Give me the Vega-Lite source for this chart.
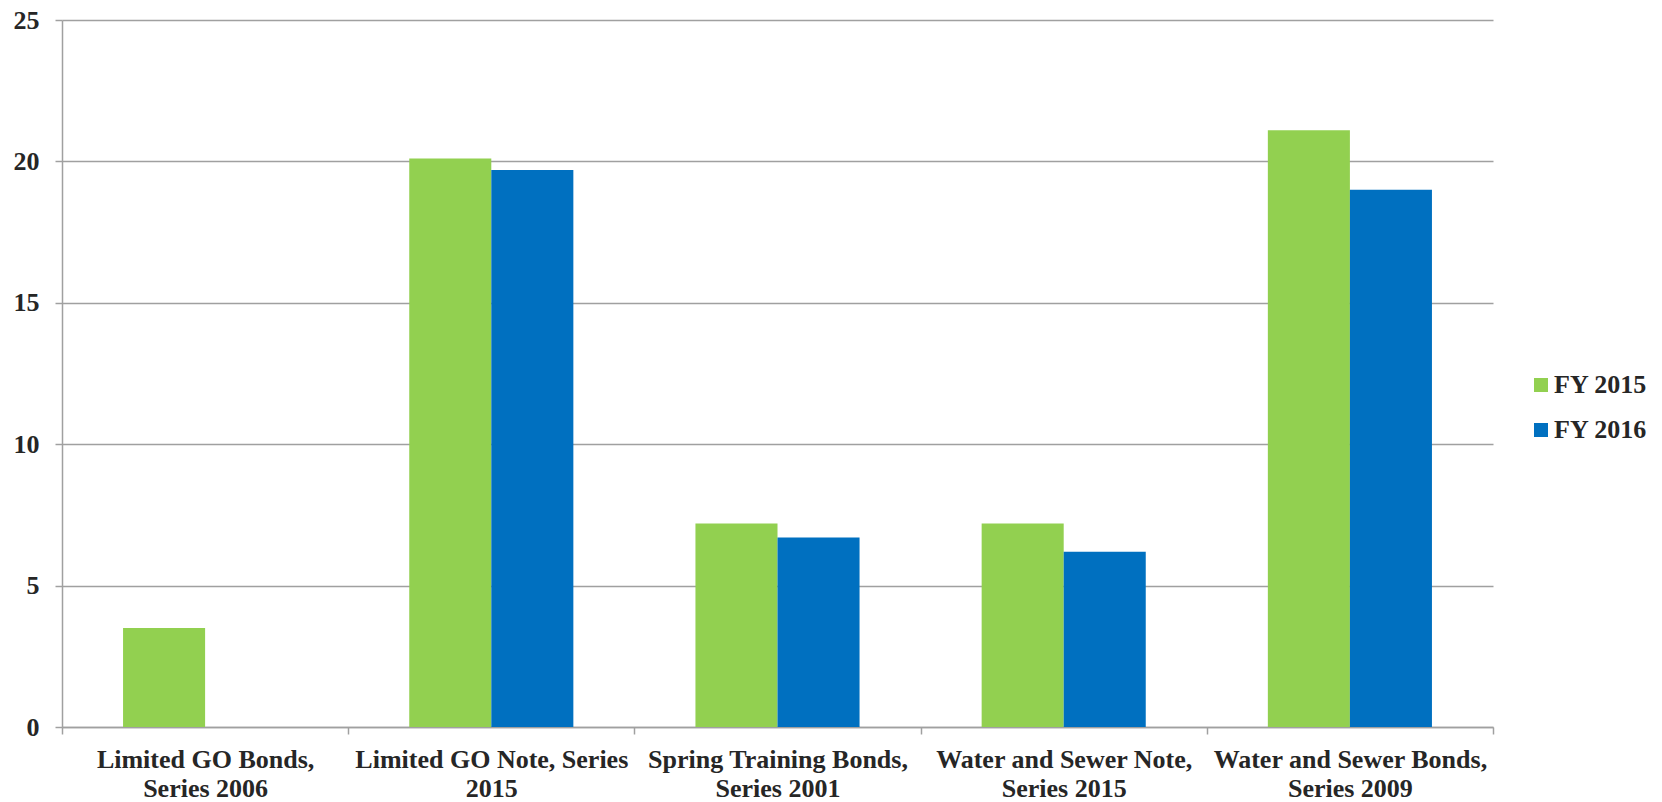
{
  "$schema": "https://vega.github.io/schema/vega-lite/v6.json",
  "width": 1431,
  "height": 707,
  "autosize": "none",
  "padding": {"left": 62, "top": 20, "right": 169, "bottom": 75},
  "background": "white",
  "config": {
    "view": {"stroke": null},
    "font": "Liberation Serif"
  },
  "data": {
    "values": [
      {"bond": "Limited GO Bonds, Series 2006", "year": "FY 2015", "value": 3.5},
      {"bond": "Limited GO Note, Series 2015", "year": "FY 2015", "value": 20.1},
      {"bond": "Limited GO Note, Series 2015", "year": "FY 2016", "value": 19.7},
      {"bond": "Spring Training Bonds, Series 2001", "year": "FY 2015", "value": 7.2},
      {"bond": "Spring Training Bonds, Series 2001", "year": "FY 2016", "value": 6.7},
      {"bond": "Water and Sewer Note, Series 2015", "year": "FY 2015", "value": 7.2},
      {"bond": "Water and Sewer Note, Series 2015", "year": "FY 2016", "value": 6.2},
      {"bond": "Water and Sewer Bonds, Series 2009", "year": "FY 2015", "value": 21.1},
      {"bond": "Water and Sewer Bonds, Series 2009", "year": "FY 2016", "value": 19.0}
    ]
  },
  "mark": {"type": "bar"},
  "encoding": {
    "x": {
      "field": "bond",
      "type": "nominal",
      "sort": null,
      "scale": {"paddingInner": 0, "paddingOuter": 0},
      "axis": {
        "title": null,
        "labelAngle": 0,
        "tickBand": "extent",
        "domainColor": "#A0A0A0",
        "domainWidth": 1.5,
        "tickColor": "#A0A0A0",
        "tickWidth": 1.5,
        "tickSize": 7,
        "labelPadding": 12,
        "labelFont": "Liberation Serif",
        "labelFontWeight": "bold",
        "labelFontSize": 26,
        "labelColor": "#262626",
        "labelLineHeight": 29,
        "labelLimit": 400,
        "labelExpr": "datum.value == 'Limited GO Bonds, Series 2006' ? ['Limited GO Bonds,', 'Series 2006'] : datum.value == 'Limited GO Note, Series 2015' ? ['Limited GO Note, Series', '2015'] : datum.value == 'Spring Training Bonds, Series 2001' ? ['Spring Training Bonds,', 'Series 2001'] : datum.value == 'Water and Sewer Note, Series 2015' ? ['Water and Sewer Note,', 'Series 2015'] : datum.value == 'Water and Sewer Bonds, Series 2009' ? ['Water and Sewer Bonds,', 'Series 2009'] : ''"
      }
    },
    "xOffset": {
      "field": "year",
      "type": "nominal",
      "scale": {"paddingInner": 0, "paddingOuter": 0.744}
    },
    "y": {
      "field": "value",
      "type": "quantitative",
      "scale": {"domain": [0, 25], "nice": false},
      "axis": {
        "title": null,
        "values": [0, 5, 10, 15, 20, 25],
        "grid": true,
        "gridColor": "#A0A0A0",
        "gridWidth": 1.5,
        "domainColor": "#A0A0A0",
        "domainWidth": 1.5,
        "tickColor": "#A0A0A0",
        "tickWidth": 1.5,
        "tickSize": 7,
        "labelPadding": 16,
        "labelFont": "Liberation Serif",
        "labelFontWeight": "bold",
        "labelFontSize": 26,
        "labelColor": "#262626"
      }
    },
    "color": {
      "field": "year",
      "type": "nominal",
      "scale": {"domain": ["FY 2015", "FY 2016"], "range": ["#92D050", "#0070C0"]},
      "legend": {
        "title": null,
        "orient": "none",
        "legendX": 1466,
        "legendY": 352,
        "symbolType": "square",
        "symbolSize": 196,
        "symbolStrokeWidth": 0,
        "labelFont": "Liberation Serif",
        "labelFontWeight": "bold",
        "labelFontSize": 26,
        "labelColor": "#262626",
        "labelOffset": 0,
        "rowPadding": 19
      }
    }
  }
}
